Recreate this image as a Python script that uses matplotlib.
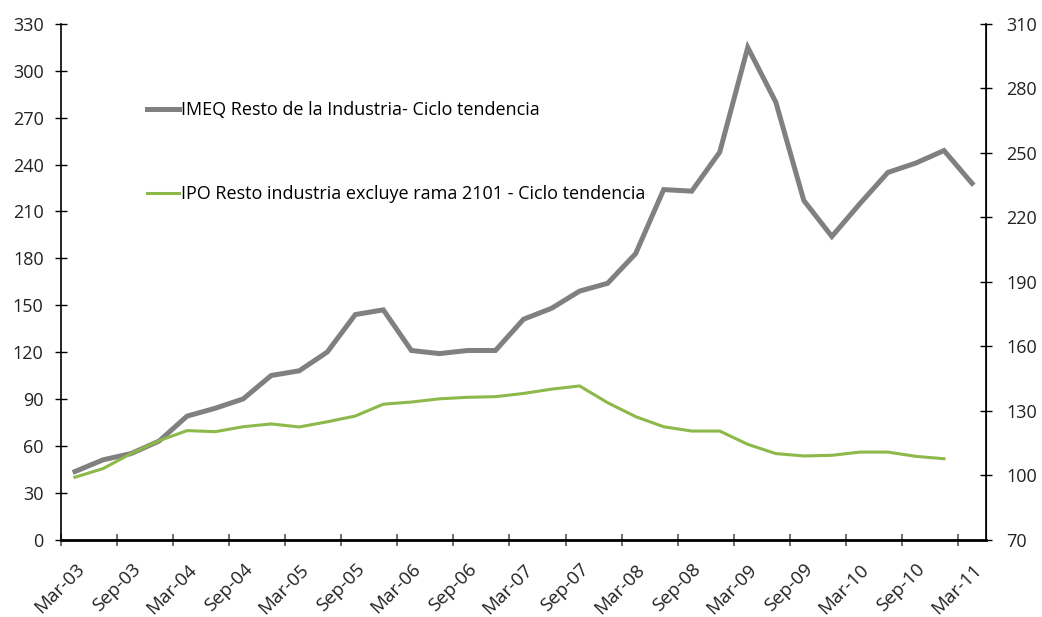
import numpy as np
import matplotlib
matplotlib.use("Agg")
import matplotlib.pyplot as plt

plt.rcParams['font.family'] = ['Open Sans', 'DejaVu Sans']

# quarterly labels, Mar-03 .. Mar-11 (every second quarter gets a label)
tick_labels = ["Mar-03", "Sep-03", "Mar-04", "Sep-04", "Mar-05", "Sep-05", "Mar-06", "Sep-06",
               "Mar-07", "Sep-07", "Mar-08", "Sep-08", "Mar-09", "Sep-09", "Mar-10", "Sep-10", "Mar-11"]

# IMEQ (left axis), 33 quarters
imeq = [43.5, 51, 55, 63, 79, 84, 90, 105, 108, 120, 144, 147, 121, 119, 121, 121,
        141, 148, 159, 164, 183, 224, 223, 248, 315, 280, 217, 194, 215, 235, 241, 249, 228]

# IPO (right axis), 32 quarters
ipo = [99, 103, 110, 116, 120.7, 120.2, 122.5, 123.8, 122.4, 124.8, 127.5, 133, 134, 135.5,
       136.2, 136.5, 138, 140, 141.5, 133.7, 127.2, 122.5, 120.5, 120.5, 114.3, 110, 108.9,
       109.2, 110.7, 110.7, 108.7, 107.6]

label_imeq = "IMEQ Resto de la Industria- Ciclo tendencia"
label_ipo = "IPO Resto industria excluye rama 2101 - Ciclo tendencia"

fig = plt.figure(figsize=(10.42, 6.17), dpi=100)
ax = fig.add_axes([0.0585, 0.1256, 0.8878, 0.8355])
ax2 = ax.twinx()

x1 = np.arange(len(imeq))
x2 = np.arange(len(ipo))
l1, = ax.plot(x1, imeq, color="#808080", lw=3.6, solid_joinstyle="miter")
l2, = ax2.plot(x2, ipo, color="#8DB84A", lw=2.2)

ax.set_xlim(-0.5, 32.5)
ax.set_ylim(0, 330)
ax.set_yticks(np.arange(0, 331, 30))
ax2.set_ylim(70, 310)
ax2.set_yticks(np.arange(70, 311, 30))

# ticks between categories, labels under every second category
ax.set_xticks(np.arange(-0.5, 32, 2))
ax.set_xticklabels([])
ax.set_xticks(np.arange(0, 33, 2), minor=True)
ax.set_xticklabels(tick_labels, minor=True, rotation=45, ha="right", va="top",
                   rotation_mode="anchor")
ax.tick_params(axis="x", which="minor", length=0, pad=15, labelsize=13.5, labelcolor="#222222")
ax.tick_params(axis="x", which="major", direction="inout", length=9, width=1.2, color="#555555")
ax.tick_params(axis="y", direction="inout", length=9, width=1, pad=8, labelsize=13,
               labelcolor="#222222")
ax2.tick_params(axis="y", direction="inout", length=9, width=1, pad=10, labelsize=13,
                labelcolor="#222222")

for a in (ax, ax2):
    a.spines["top"].set_visible(False)
ax.spines["bottom"].set_linewidth(2)
ax.spines["left"].set_linewidth(1.2)
ax2.spines["right"].set_linewidth(1.2)
ax2.spines["bottom"].set_visible(False)
ax2.spines["left"].set_visible(False)

ax.legend([l1, l2], [label_imeq, label_ipo], loc="upper left",
          bbox_to_anchor=(147 / 1042, 1 - 101 / 617), bbox_transform=fig.transFigure,
          frameon=False, fontsize=13, handlelength=1.75, handletextpad=0.15,
          labelspacing=3.68, borderpad=0, borderaxespad=0)

fig.savefig("out.png", dpi=100)
